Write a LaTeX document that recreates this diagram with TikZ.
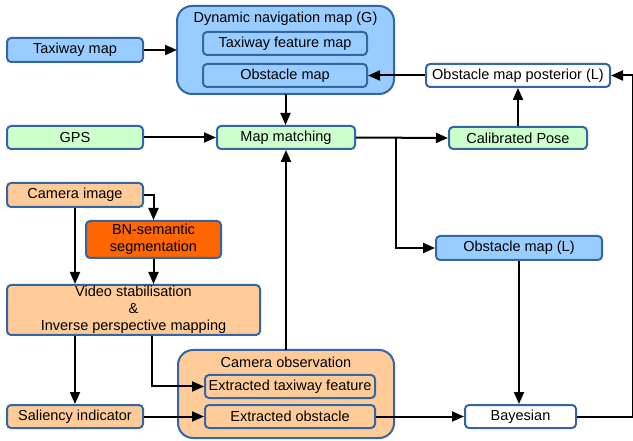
\documentclass[tikz,border=0pt]{standalone}
\usepackage{fontspec}
\setmainfont{Liberation Sans}
\usetikzlibrary{arrows.meta}
\definecolor{bfill}{HTML}{99CCFF}
\definecolor{gfill}{HTML}{CCFFCC}
\definecolor{ofill}{HTML}{FFCC99}
\definecolor{dfill}{HTML}{FF6600}
\definecolor{bord}{HTML}{3465A4}
\tikzset{
  txt/.style={font=\fontsize{14.5}{17}\selectfont},
  box/.style={txt, draw=bord, line width=2pt, rounded corners=4pt, inner sep=0pt, align=center},
  bigbox/.style={draw=bord, line width=2pt, rounded corners=15pt},
  conn/.style={line width=2pt, -{Triangle[length=12pt,width=10pt]}},
  plain/.style={line width=2pt}
}
\begin{document}
\begin{tikzpicture}[x=1pt,y=-1pt]
\useasboundingbox (0,0) rectangle (633,441);
% big boxes
\draw[bigbox, fill=bfill] (177,6) rectangle (394,94);
\node[txt] (dyntitle) at (285.5,19) {Dynamic navigation map (G)};
\draw[bigbox, fill=ofill] (178,350) rectangle (394,438);
\node[txt] (camtitle) at (286,362) {Camera observation};

% nodes
\node[box, fill=bfill, minimum width=136pt, minimum height=24pt] (taxi) at (75,50) {Taxiway map};
\node[box, fill=bfill, minimum width=164pt, minimum height=23pt] (tfm) at (285,43.5) {Taxiway feature map};
\node[box, fill=bfill, minimum width=164pt, minimum height=23pt] (om) at (285,75.5) {Obstacle map};
\node[box, fill=white, minimum width=184pt, minimum height=23pt] (omp) at (518,75.5) {Obstacle map posterior (L)};
\node[box, fill=gfill, minimum width=136pt, minimum height=23pt] (gps) at (75,137.5) {GPS};
\node[box, fill=gfill, minimum width=138pt, minimum height=23pt] (mm) at (286,137.5) {Map matching};
\node[box, fill=gfill, minimum width=138pt, minimum height=22pt] (cp) at (518,138) {Calibrated Pose};
\node[box, fill=ofill, minimum width=136pt, minimum height=24pt] (ci) at (75,195) {Camera image};
\node[box, fill=dfill, minimum width=135pt, minimum height=37pt] (bn) at (153.5,239.5) {BN-semantic\\segmentation};
\node[box, fill=ofill, minimum width=253pt, minimum height=50pt] (vs) at (133.5,310) {Video stabilisation\\\&\\Inverse perspective mapping};
\node[box, fill=bfill, minimum width=166pt, minimum height=24pt] (oml) at (519,248) {Obstacle map (L)};
\node[box, fill=ofill, minimum width=170pt, minimum height=23pt] (etf) at (290,386.5) {Extracted taxiway feature};
\node[box, fill=ofill, minimum width=170pt, minimum height=23pt] (eo) at (290,416.5) {Extracted obstacle};
\node[box, fill=ofill, minimum width=136pt, minimum height=23pt] (si) at (75,416.5) {Saliency indicator};
\node[box, fill=white, minimum width=111pt, minimum height=23pt] (bay) at (520.5,416.5) {Bayesian};

\coordinate (dynW) at (177,50);
\coordinate (dynS) at (285.5,94);
\coordinate (camN) at (286,350);
\coordinate (edgeTop) at (633,75.5);
\coordinate (edgeBot) at (633,416.5);
\coordinate (branch) at (396,137.5);

% connectors
\draw[conn] (taxi.east) -- (dynW);
\draw[conn] (omp.west) -- (om.east);
\draw[conn] (dynS) -- (dynS |- mm.north);
\draw[conn] (gps.east) -- (mm.west);
\draw[conn] (mm.east) -- (cp.west);
\draw[conn] (branch) |- (oml.west);
\draw[conn] (cp.north) -- (omp.south);
\draw[conn] (ci.east) -| (bn.north);
\draw[conn] (ci.south) -- (vs.north -| ci.south);
\draw[conn] (bn.south) -- (vs.north -| bn.south);
\draw[conn] (vs.south -| si.north) -- (si.north);
\draw[conn] (vs.south -| 152,0) |- (etf.west);
\draw[conn] (si.east) -- (eo.west);
\draw[conn] (camN) -- (camN |- mm.south);
\draw[conn] (eo.east) -- (bay.west);
\draw[conn] (oml.south) -- (bay.north -| oml.south);
\draw[plain] (bay.east) -- (edgeBot) -- (edgeTop);
\draw[conn] (edgeTop) -- (omp.east);
\end{tikzpicture}
\end{document}
